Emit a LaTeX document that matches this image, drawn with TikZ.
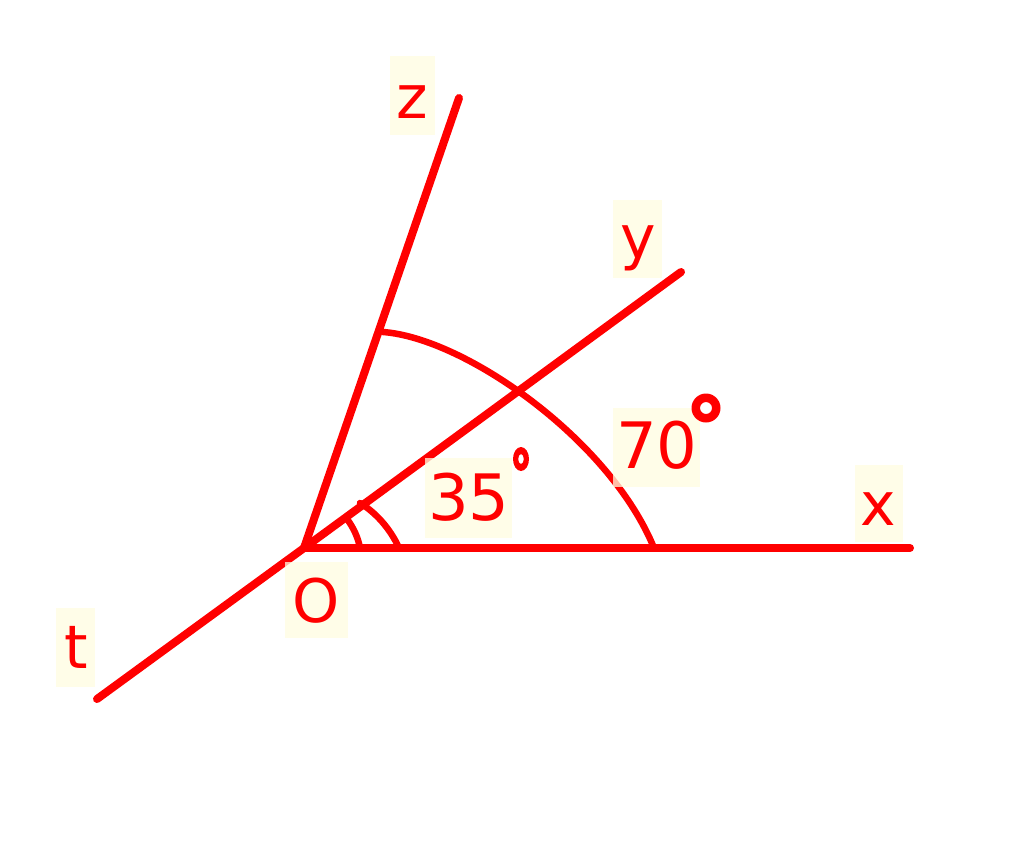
\documentclass[tikz,border=0pt]{standalone}
\usepackage{fontspec}
\setmainfont{DejaVu Sans}
\definecolor{labbg}{RGB}{255,253,225}
\begin{document}
\begin{tikzpicture}[x=1pt,y=-1pt,
  ray/.style={red, line width=8pt, line cap=round},
  markarc/.style={red, line width=6.5pt, line cap=round},
  labbox/.style={fill=labbg, fill opacity=0.75},
  lab/.style={text=red, inner sep=0pt, anchor=base, font=\fontsize{60}{72}\selectfont},
  num/.style={lab, font=\fontsize{64}{77}\selectfont},
  degring/.style={fill=red, even odd rule}]
\useasboundingbox[fill=white] (0,0) rectangle (1024,849);
% points
\coordinate (O) at (304,548);
\coordinate (X) at (910,548);
\coordinate (Y) at (681,272);
\coordinate (Z) at (459,98);
\coordinate (T) at (97,699);
% rays
\draw[ray] (T) -- (O) -- (Y);
\draw[ray] (O) -- (X);
\draw[ray] (O) -- (Z);
% angle marks
\draw[markarc] (383,332) .. controls (465,338) and (610,440) .. (654,548);
\draw[markarc] (347,519) .. controls (353,527) and (358,537) .. (360,548);
\draw[markarc] (360,503) .. controls (375,512) and (390,528) .. (399,548);
% label backgrounds
\fill[labbox] (390,56) rectangle (435,135);
\fill[labbox] (613,200) rectangle (662,278);
\fill[labbox] (855,465) rectangle (903,542);
\fill[labbox] (56,608) rectangle (95,687);
\fill[labbox] (285,562) rectangle (348,638);
\fill[labbox] (425,458) rectangle (512,538);
\fill[labbox] (613,408) rectangle (700,487);
% labels
\node[lab] (lz) at (412,118) {z};
\node[lab] (ly) at (638,258) {y};
\node[lab] (lx) at (878,525) {x};
\node[lab] (lt) at (76,668) {t};
\node[lab] (lO) at (316,622) {O};
\node[num] (l35) at (469,520) {35};
\node[num] (l70) at (657,468) {70};
% degree signs
\fill[degring] (521,459) ellipse [x radius=8pt, y radius=12pt] (521,459) ellipse [x radius=2.8pt, y radius=5pt];
\fill[degring] (706,408) circle [radius=14.5pt] (706,408) circle [radius=6pt];
\end{tikzpicture}
\end{document}
